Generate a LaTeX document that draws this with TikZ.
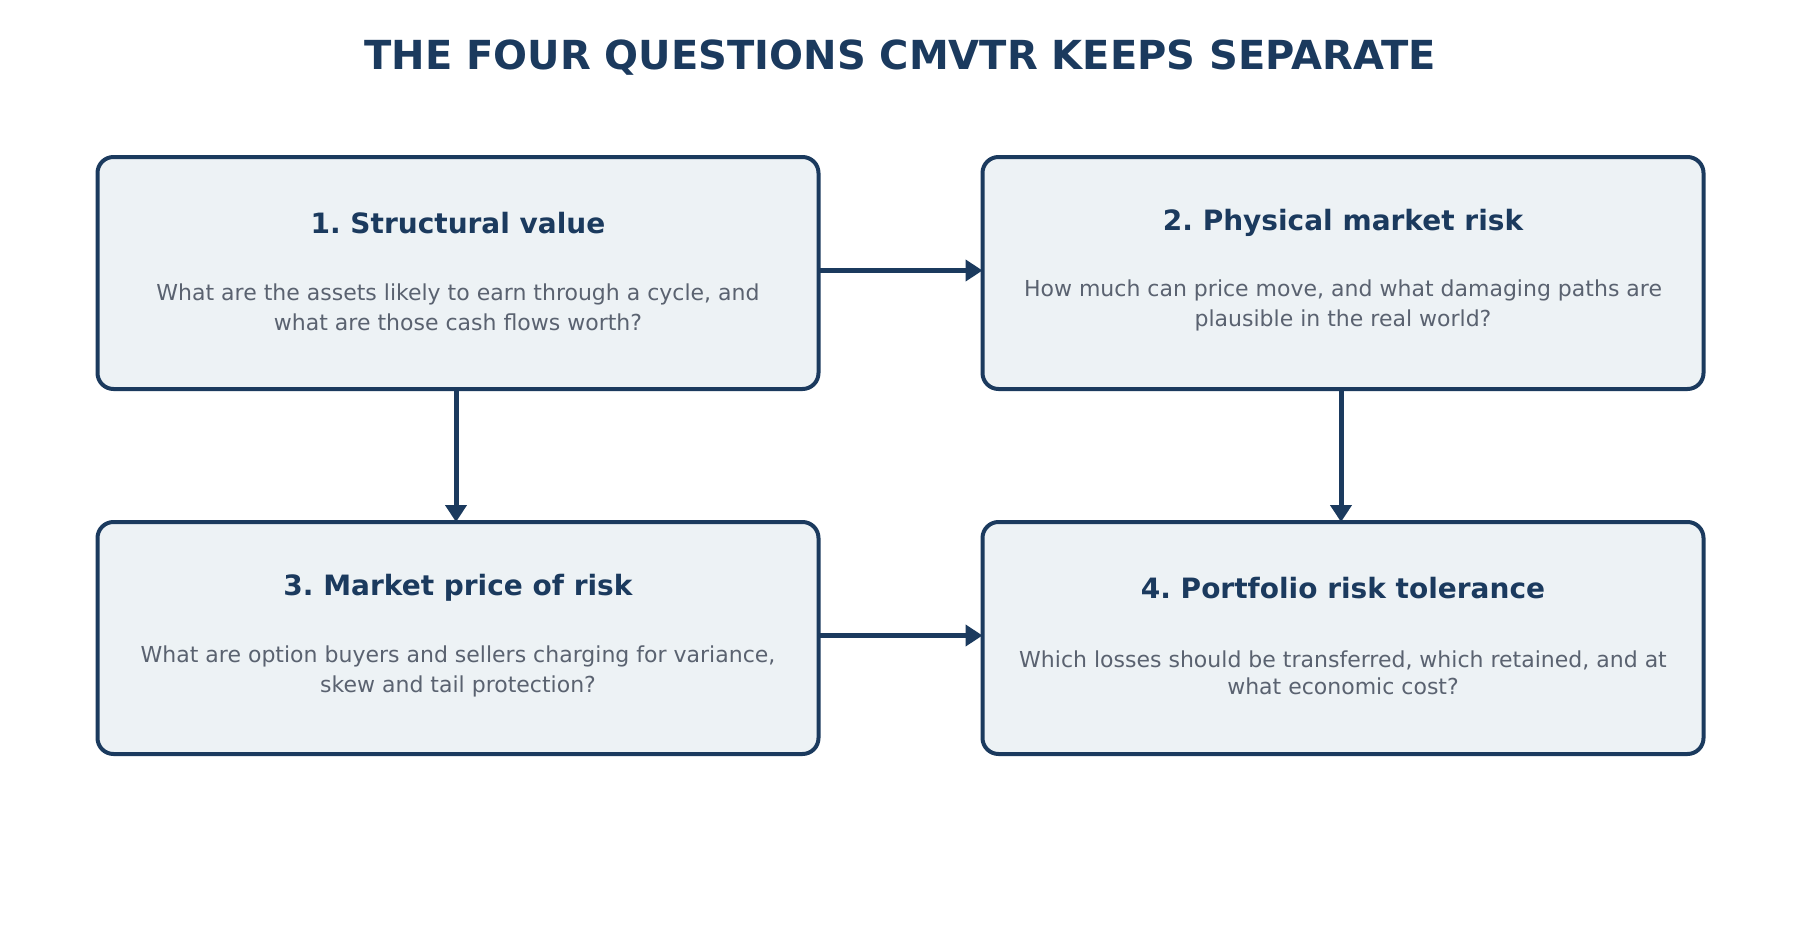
\documentclass[tikz,border=0pt]{standalone}
\usepackage{fontspec}
\setmainfont{DejaVu Sans}
\usetikzlibrary{arrows.meta}
\definecolor{navy}{HTML}{1B3A5E}
\definecolor{boxfill}{HTML}{EDF2F5}
\definecolor{bodygray}{HTML}{5A6270}
\tikzset{
  qbox/.style={draw=navy, fill=boxfill, line width=4pt, rounded corners=16pt,
    minimum width=721pt, minimum height=232pt, inner sep=0pt, outer sep=0pt},
  qhead/.style={text=navy, font=\fontsize{28}{34}\selectfont\bfseries\frenchspacing, anchor=base, inner sep=0pt},
  qbody/.style={text=bodygray, font=\fontsize{22}{30.7}\selectfont, align=center, anchor=base, inner sep=0pt},
  qarrow/.style={draw=navy, line width=5pt, -{Triangle[length=17pt,width=21pt]}},
  qtitle/.style={text=navy, font=\fontsize{40}{48}\selectfont\bfseries, anchor=base, inner sep=0pt}
}
\begin{document}
\begin{tikzpicture}[x=1pt,y=-1pt]
\useasboundingbox (0,0) rectangle (1800,950);
\node[qtitle] (title) at (900,69.3) {THE FOUR QUESTIONS CMVTR KEEPS SEPARATE};

\node[qbox] (b1) at (458,273) {};
\node[qbox] (b2) at (1343,273) {};
\node[qbox] (b3) at (458,638) {};
\node[qbox] (b4) at (1343,638) {};

\node[qhead] (h1) at ([yshift=-76.3pt]b1.north) {1. Structural value};
\node[qbody] (t1) at ([yshift=-173.7pt]b1.north) {What are the assets likely to earn through a cycle, and\\what are those cash flows worth?};

\node[qhead] (h2) at ([yshift=-73pt]b2.north) {2. Physical market risk};
\node[qbody] (t2) at ([yshift=-169.7pt]b2.north) {How much can price move, and what damaging paths are\\plausible in the real world?};

\node[qhead] (h3) at ([yshift=-73pt]b3.north) {3. Market price of risk};
\node[qbody] (t3) at ([yshift=-170.7pt]b3.north) {What are option buyers and sellers charging for variance,\\skew and tail protection?};

\node[qhead] (h4) at ([yshift=-76.3pt]b4.north) {4. Portfolio risk tolerance};
\node[qbody, font=\fontsize{22}{27}\selectfont] (t4) at ([yshift=-172pt]b4.north) {Which losses should be transferred, which retained, and at\\what economic cost?};

\draw[qarrow] ([yshift=2.5pt]b1.east) -- ([yshift=2.5pt]b2.west);
\draw[qarrow] ([yshift=2.5pt]b3.east) -- ([yshift=2.5pt]b4.west);
\draw[qarrow] ([xshift=-2pt]b1.south) -- ([xshift=-2pt]b3.north);
\draw[qarrow] ([xshift=-2pt]b2.south) -- ([xshift=-2pt]b4.north);
\end{tikzpicture}
\end{document}
